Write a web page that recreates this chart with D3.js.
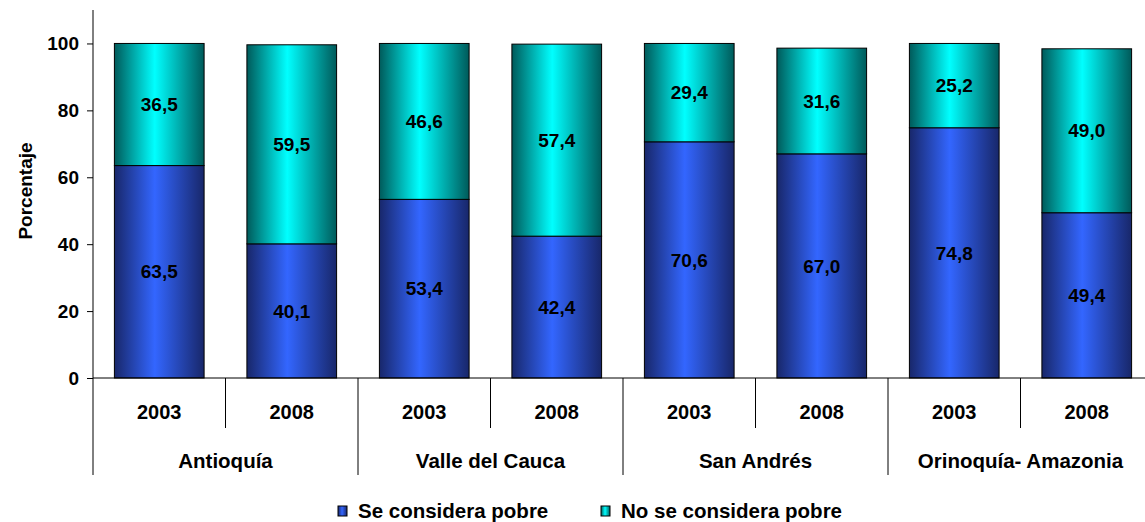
<!DOCTYPE html>
<html>
<head>
<meta charset="utf-8">
<script src="https://cdn.jsdelivr.net/npm/d3@7"></script>
<style>
  html, body { margin: 0; padding: 0; background: #fff; }
  svg { display: block; }
  svg text { font-family: "Liberation Sans", Arial, sans-serif; font-weight: 700; fill: #000; }
</style>
</head>
<body>
<svg id="chart" width="1145" height="522"></svg>
<script>
// Regions and survey years
const regions = ["Antioquía", "Valle del Cauca", "San Andrés", "Orinoquía- Amazonia"];
const years = ["2003", "2008"];
// Percent of households, one value per region/year in the order above
const pobre   = [63.5, 40.1, 53.4, 42.4, 70.6, 67.0, 74.8, 49.4];
const noPobre = [36.5, 59.5, 46.6, 57.4, 29.4, 31.6, 25.2, 49.0];
const yTicks = [0, 20, 40, 60, 80, 100];
const seriesNames = ["Se considera pobre", "No se considera pobre"];

const fmt = v => v.toFixed(1).replace(".", ",");
const FONT = "'Liberation Sans', Arial, sans-serif";

const svg = d3.select("#chart");
const plotLeft = 93, plotRight = 1153, plotTop = 10, plotBottom = 378;

const slots = regions.flatMap(r => years.map(y => r + "|" + y));
const x = d3.scaleBand().domain(slots).range([plotLeft, plotRight]).paddingInner(0.323).paddingOuter(0.1615);
const xFull = d3.scaleBand().domain(slots).range([plotLeft, plotRight]);
const y = d3.scaleLinear().domain([0, 110]).range([plotBottom, plotTop]);

// Horizontal gradients giving the bars a cylindrical look
const defs = svg.append("defs");
function grad(id, edge, mid) {
  const g = defs.append("linearGradient").attr("id", id).attr("x1", "0").attr("x2", "1").attr("y1", "0").attr("y2", "0");
  g.append("stop").attr("offset", "0%").attr("stop-color", edge);
  g.append("stop").attr("offset", "45%").attr("stop-color", mid);
  g.append("stop").attr("offset", "100%").attr("stop-color", edge);
}
grad("gBlue", "#18276a", "#3366ff");
grad("gCyan", "#005a5a", "#00ffff");

const rows = slots.map((s, i) => ({ slot: s, pobre: pobre[i], noPobre: noPobre[i] }));
const stack = d3.stack().keys(["pobre", "noPobre"])(rows);
const fills = ["url(#gBlue)", "url(#gCyan)"];

function label(sel, size) {
  return sel.attr("font-family", FONT).attr("font-weight", "bold").attr("font-size", size).attr("fill", "#000");
}

stack.forEach((layer, li) => {
  const g = svg.append("g");
  g.selectAll("rect").data(layer).join("rect")
    .attr("x", d => x(d.data.slot))
    .attr("width", x.bandwidth())
    .attr("y", d => y(d[1]))
    .attr("height", d => y(d[0]) - y(d[1]))
    .attr("fill", fills[li])
    .attr("stroke", "#000")
    .attr("stroke-width", 1);
  label(g.selectAll("text").data(layer).join("text"), 19)
    .attr("x", d => x(d.data.slot) + x.bandwidth() / 2)
    .attr("y", d => y((d[0] + d[1]) / 2))
    .attr("dy", "0.35em")
    .attr("text-anchor", "middle")
    .text(d => fmt(d[1] - d[0]));
});

// Y axis
const yAxis = svg.append("g").attr("transform", `translate(${plotLeft},0)`)
  .call(d3.axisLeft(y).tickValues(yTicks).tickSize(6).tickPadding(8));
yAxis.select(".domain").attr("d", `M0,${plotTop}V${plotBottom}`).attr("stroke", "#000");
label(yAxis.selectAll("text"), 19);
yAxis.selectAll("line").attr("stroke", "#000");

// X axis baseline
svg.append("line").attr("x1", plotLeft).attr("x2", plotRight).attr("y1", plotBottom).attr("y2", plotBottom)
  .attr("stroke", "#000");

// Year labels and separators
slots.forEach((s, i) => {
  const x0 = xFull(s);
  const yr = s.split("|")[1];
  label(svg.append("text"), 20).attr("x", x0 + xFull.bandwidth() / 2).attr("y", 412).attr("dy", "0.35em")
    .attr("text-anchor", "middle").text(yr);
  const long = i % 2 === 0;
  svg.append("line").attr("x1", x0).attr("x2", x0).attr("y1", plotBottom).attr("y2", long ? 475 : 428)
    .attr("stroke", "#000");
});
svg.append("line").attr("x1", plotRight).attr("x2", plotRight).attr("y1", plotBottom).attr("y2", 475).attr("stroke", "#000");

// Region labels
regions.forEach((r, i) => {
  const a = xFull(slots[i * 2]), b = xFull(slots[i * 2 + 1]) + xFull.bandwidth();
  label(svg.append("text"), 20.5).attr("x", (a + b) / 2).attr("y", 461).attr("dy", "0.35em")
    .attr("text-anchor", "middle").text(r);
});

// Y axis title
label(svg.append("text"), 19).attr("transform", "translate(25,191) rotate(-90)")
  .attr("text-anchor", "middle").attr("dy", "0.35em").text("Porcentaje");

// Legend
const legendX = [338, 601];
seriesNames.forEach((n, i) => {
  svg.append("rect").attr("x", legendX[i]).attr("y", 506).attr("width", 9).attr("height", 10)
    .attr("fill", fills[i]).attr("stroke", "#000");
  label(svg.append("text"), 20.5).attr("x", legendX[i] + 20).attr("y", 511).attr("dy", "0.35em")
    .text(n);
});
</script>
</body>
</html>
